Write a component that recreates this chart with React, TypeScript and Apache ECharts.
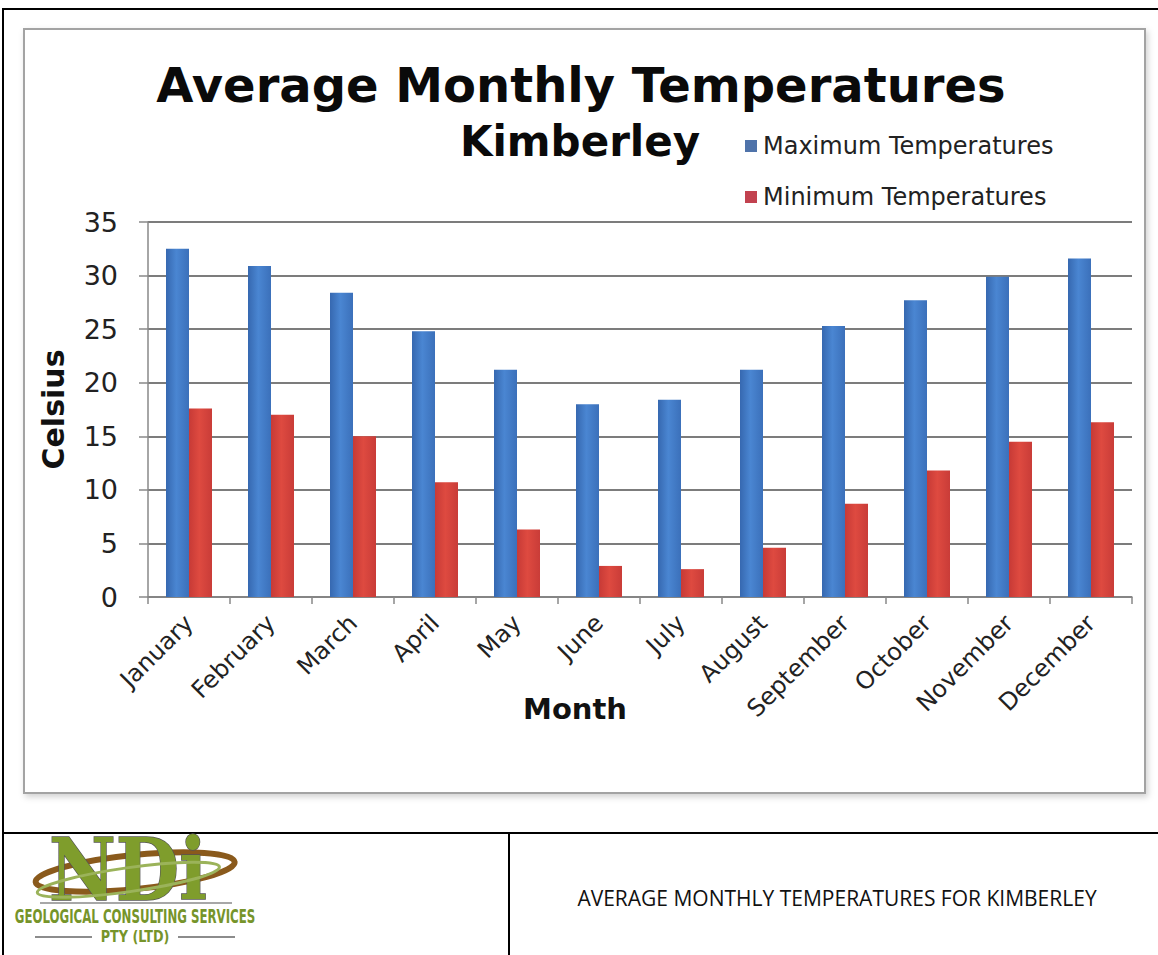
import React, { useEffect, useRef } from "react";
import * as echarts from "echarts";

const months = ["January", "February", "March", "April", "May", "June", "July", "August", "September", "October", "November", "December"];
const maxTemps = [32.5, 30.9, 28.4, 24.8, 21.2, 18.0, 18.4, 21.2, 25.3, 27.7, 29.9, 31.6];
const minTemps = [17.6, 17.0, 15.0, 10.7, 6.3, 2.9, 2.6, 4.6, 8.7, 11.8, 14.5, 16.3];
const seriesNames = ["Maximum Temperatures", "Minimum Temperatures"];
const titleLines = ["Average Monthly Temperatures", "Kimberley"];
const axisNames = ["Month", "Celsius"];
const footerText = "AVERAGE MONTHLY TEMPERATURES FOR KIMBERLEY";
const logoTexts = ["NDi", "GEOLOGICAL CONSULTING SERVICES", "PTY (LTD)"];

export default function App() {
  const ref = useRef<HTMLDivElement>(null);
  useEffect(() => {
    document.body.style.margin = "0";
    const chart = echarts.init(ref.current!, undefined, { renderer: "svg" });
    const font = "'DejaVu Sans', Verdana, sans-serif";
    const blueGrad = new echarts.graphic.LinearGradient(0, 0, 1, 0, [
      { offset: 0, color: "#3668b0" },
      { offset: 0.45, color: "#4a86d2" },
      { offset: 1, color: "#3b70ba" },
    ]);
    const redGrad = new echarts.graphic.LinearGradient(0, 0, 1, 0, [
      { offset: 0, color: "#c73a36" },
      { offset: 0.45, color: "#de4a40" },
      { offset: 1, color: "#c93c38" },
    ]);
    chart.setOption({
      animation: false,
      backgroundColor: "#ffffff",
      textStyle: { fontFamily: font },
      grid: { left: 148, right: 26, top: 222, bottom: 358, containLabel: false },
      legend: {
        orient: "vertical",
        left: 745,
        top: 134,
        padding: 0,
        itemWidth: 12,
        itemHeight: 12,
        itemGap: 27,
        icon: "rect",
        textStyle: { fontFamily: font, fontSize: 24, color: "#222", lineHeight: 24, padding: [0, 0, 0, 1] },
        data: [
          { name: seriesNames[0], itemStyle: { color: "#4f73aa" } },
          { name: seriesNames[1], itemStyle: { color: "#c2424f" } },
        ],
      },
      xAxis: {
        type: "category",
        data: months,
        boundaryGap: true,
        axisLine: { show: true, lineStyle: { color: "#888", width: 1.5 } },
        axisTick: { show: true, length: 7, lineStyle: { color: "#888", width: 1.5 } },
        axisLabel: { rotate: 45, margin: 22, fontSize: 24, color: "#222", fontFamily: font, interval: 0 },
        splitLine: { show: false },
      },
      yAxis: {
        type: "value",
        min: 0,
        max: 35,
        interval: 5,
        name: axisNames[1],
        nameLocation: "middle",
        nameGap: 80,
        nameRotate: 90,
        nameTextStyle: { fontFamily: font, fontSize: 30, fontWeight: "bold", color: "#111" },
        axisLine: { show: true, lineStyle: { color: "#888", width: 1.5 } },
        axisTick: { show: true, length: 9, lineStyle: { color: "#888", width: 1.5 } },
        axisLabel: { margin: 30, fontSize: 27, color: "#222", fontFamily: font },
        splitLine: { show: true, lineStyle: { color: "#505050", width: 1.5 } },
      },
      series: [
        {
          name: seriesNames[0],
          type: "bar",
          data: maxTemps,
          barWidth: 23,
          barGap: "0%",
          itemStyle: { color: blueGrad },
        },
        {
          name: seriesNames[1],
          type: "bar",
          data: minTemps,
          barWidth: 23,
          barGap: "0%",
          itemStyle: { color: redGrad },
        },
      ],
      graphic: [
        // outer black border
        { type: "rect", z: -10, shape: { x: 3, y: 9, width: 1170, height: 960 }, style: { fill: "none", stroke: "#000", lineWidth: 2 }, silent: true },
        { type: "line", shape: { x1: 3, y1: 833, x2: 1160, y2: 833 }, style: { stroke: "#000", lineWidth: 2 }, silent: true },
        { type: "line", shape: { x1: 509, y1: 833, x2: 509, y2: 960 }, style: { stroke: "#000", lineWidth: 2 }, silent: true },
        // chart frame
        {
          type: "rect",
          z: -5,
          shape: { x: 24, y: 29, width: 1121, height: 764 },
          style: { fill: "#fff", stroke: "#a3a3a3", lineWidth: 2, shadowBlur: 6, shadowColor: "rgba(0,0,0,0.18)", shadowOffsetX: 2, shadowOffsetY: 3 },
          silent: true,
        },
        // titles
        {
          type: "text",
          z: 10,
          style: { x: 581, y: 85, text: titleLines[0], fontFamily: font, fontSize: 48, fontWeight: "bold", fill: "#0a0a0a", align: "center", verticalAlign: "middle" },
        },
        {
          type: "text",
          z: 10,
          style: { x: 580, y: 141, text: titleLines[1], fontFamily: font, fontSize: 42, fontWeight: "bold", fill: "#0a0a0a", align: "center", verticalAlign: "middle" },
        },
        // x-axis name
        {
          type: "text",
          z: 10,
          style: { x: 575, y: 709, text: axisNames[0], fontFamily: font, fontSize: 29, fontWeight: "bold", fill: "#111", align: "center", verticalAlign: "middle" },
        },
        // footer text
        {
          type: "text",
          style: { x: 837, y: 898, text: footerText, fontFamily: "'Open Sans', 'Noto Sans', sans-serif", fontSize: 21, fill: "#111", align: "center", verticalAlign: "middle" },
        },
        // logo
        {
          type: "group",
          children: [
            {
              type: "ellipse",
              shape: { cx: 135, cy: 872, rx: 100, ry: 17 },
              rotation: 0.1,
              originX: 135,
              originY: 872,
              style: { fill: "none", stroke: "#8a5a1c", lineWidth: 6 },
            },
            {
              type: "text",
              x: 128,
              y: 870,
              scaleX: 0.85,
              style: { x: 0, y: 0, text: logoTexts[0], fontFamily: "'DejaVu Serif', 'Liberation Serif', serif", fontSize: 86, lineHeight: 62, fontWeight: "bold", fill: "#7f9d2c", stroke: "#555", lineWidth: 1.5, align: "center", verticalAlign: "middle" },
            },
            {
              type: "ellipse",
              shape: { cx: 128, cy: 880, rx: 92, ry: 12 },
              rotation: 0.14,
              originX: 128,
              originY: 880,
              style: { fill: "none", stroke: "#9bb35a", lineWidth: 3 },
            },
            { type: "line", shape: { x1: 40, y1: 903, x2: 232, y2: 903 }, style: { stroke: "#8a8a8a", lineWidth: 1.5 } },
            {
              type: "text",
              x: 135,
              y: 916,
              scaleX: 0.62,
              style: { x: 0, y: 0, text: logoTexts[1], fontFamily: font, fontSize: 19, lineHeight: 17, fontWeight: "bold", fill: "#76942a", align: "center", verticalAlign: "middle" },
            },
            { type: "line", shape: { x1: 35, y1: 937, x2: 92, y2: 937 }, style: { stroke: "#666", lineWidth: 1.5 } },
            { type: "line", shape: { x1: 178, y1: 937, x2: 235, y2: 937 }, style: { stroke: "#666", lineWidth: 1.5 } },
            {
              type: "text",
              x: 135,
              y: 937,
              scaleX: 0.85,
              style: { x: 0, y: 0, text: logoTexts[2], fontFamily: font, fontSize: 15, lineHeight: 14, fontWeight: "bold", fill: "#76942a", align: "center", verticalAlign: "middle" },
            },
          ],
        },
      ],
    });
    return () => chart.dispose();
  }, []);
  return <div ref={ref} style={{ position: "absolute", left: 0, top: 0, width: 1158, height: 955 }} />;
}
